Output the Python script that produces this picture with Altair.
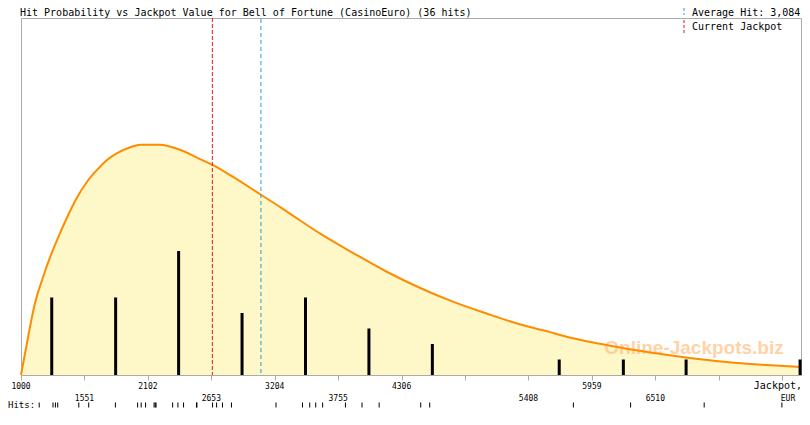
"""Hit probability vs jackpot value chart (Bell of Fortune, CasinoEuro)"""

import altair as alt
import pandas as pd


# Styling
FILL_COLOR = "#fef7c7"
CURVE_COLOR = "#ff8c00"
FRAME_COLOR = "#aaaaaa"
RED = "#e01b1b"
BLUE = "#2a9ad8"
MONO_FONT = "DejaVu Sans Mono"
PLOT_W = 780
PLOT_H = 357

# Data
x_domain = [1000, 7775]
y_domain = [0, 23.03]

curve_jackpot = [1000, 1060, 1118, 1189, 1261, 1333, 1405, 1476, 1577, 1663, 1749,
                 1835, 1950, 2036, 2208, 2369, 2541, 2664, 2828, 3077, 3258, 3402,
                 3603, 3890, 4177, 4463, 4751, 5038, 5324, 5554, 5755, 6042, 6329,
                 6616, 6903, 7190, 7477, 7775]
curve_level = [0, 2.39, 4.53, 6.26, 7.76, 9.05, 10.24, 11.31, 12.50, 13.25, 13.89,
               14.32, 14.69, 14.86, 14.86, 14.56, 13.98, 13.55, 12.84, 11.66, 10.80, 10.08,
               9.10, 7.85, 6.66, 5.63, 4.73, 3.98, 3.29, 2.85, 2.43, 2.00, 1.61,
               1.29, 1.01, 0.79, 0.65, 0.52]

bar_jackpot = [1267, 1822, 2369, 2920, 3471, 4022, 4573, 5675, 6232, 6777, 7767]
bar_hits = [5, 5, 8, 4, 5, 3, 2, 1, 1, 1, 1]

hit_values = [1158, 1278, 1299, 1319, 1502, 1588, 1820, 2013, 2044, 2082,
              2156, 2166, 2173, 2317, 2363, 2412, 2524, 2528, 2664, 2699,
              2750, 2828, 3215, 3445, 3508, 3560, 3620, 3818, 3962, 4111,
              4472, 4550, 5798, 6295, 6934, 7609]

tick_values = [1000, 1551, 2102, 2653, 3204, 3755, 4306, 4857, 5408, 5959, 6510, 7061, 7612]
label_row1 = [1000, 2102, 3204, 4306, 5959]
label_row2 = [1551, 2653, 3755, 5408, 6510]

current_jackpot = 2662
average_hit = 3084

title_text = "Hit Probability vs Jackpot Value for Bell of Fortune (CasinoEuro) (36 hits)"
legend_labels = ["Average Hit: 3,084", "Current Jackpot"]


def x_enc(field):
    return alt.X(
        f"{field}:Q",
        scale=alt.Scale(domain=x_domain, nice=False, zero=False, padding=0),
        axis=alt.Axis(values=tick_values, labels=False, title=None, grid=False,
                      tickColor=FRAME_COLOR, domainColor=FRAME_COLOR, tickSize=5),
    )


def y_enc(field):
    return alt.Y(f"{field}:Q", scale=alt.Scale(domain=y_domain, nice=False), axis=None)


def text_chart(text, **mark_kw):
    return alt.Chart(pd.DataFrame({"t": [text]})).mark_text(
        font=MONO_FONT, color="black", baseline="alphabetic", **mark_kw
    )


curve_df = pd.DataFrame({"jackpot": curve_jackpot, "level": curve_level})
bars_df = pd.DataFrame({"jackpot": bar_jackpot, "hits": bar_hits})
hits_df = pd.DataFrame({"jackpot": hit_values})
row1_df = pd.DataFrame({"jackpot": label_row1, "label": [str(v) for v in label_row1]})
row2_df = pd.DataFrame({"jackpot": label_row2, "label": [str(v) for v in label_row2]})

# Probability curve: filled area plus orange outline
area = alt.Chart(curve_df).mark_area(
    color=FILL_COLOR, interpolate="monotone"
).encode(x=x_enc("jackpot"), y=y_enc("level"))

line = alt.Chart(curve_df).mark_line(
    color=CURVE_COLOR, strokeWidth=2, interpolate="monotone"
).encode(x=x_enc("jackpot"), y=y_enc("level"))

watermark = alt.Chart(pd.DataFrame({"t": ["Online-Jackpots.biz"]})).mark_text(
    font="Liberation Sans", fontSize=19, fontWeight="bold", color="#ffc48a",
    opacity=0.75, align="center", baseline="middle"
).encode(x=alt.value(673), y=alt.value(330), text="t:N")

# Hit histogram
bars = alt.Chart(bars_df).mark_bar(color="black", size=3).encode(
    x=x_enc("jackpot"), y=y_enc("hits")
)

# Reference lines
current_line = alt.Chart(pd.DataFrame({"jackpot": [current_jackpot]})).mark_rule(
    color=RED, strokeDash=[4, 2], strokeWidth=1
).encode(x=x_enc("jackpot"), y=alt.value(0), y2=alt.value(PLOT_H))

average_line = alt.Chart(pd.DataFrame({"jackpot": [average_hit]})).mark_rule(
    color=BLUE, strokeDash=[4, 3], strokeWidth=1
).encode(x=x_enc("jackpot"), y=alt.value(1), y2=alt.value(PLOT_H))

# Tick labels in two staggered rows
row1 = alt.Chart(row1_df).mark_text(
    font=MONO_FONT, fontSize=8, baseline="alphabetic", color="black"
).encode(x=x_enc("jackpot"), y=alt.value(370.5), text="label:N")

row2 = alt.Chart(row2_df).mark_text(
    font=MONO_FONT, fontSize=8, baseline="alphabetic", color="black"
).encode(x=x_enc("jackpot"), y=alt.value(382.5), text="label:N")

unit1 = text_chart("Jackpot,", fontSize=10, align="right").encode(
    x=alt.value(781), y=alt.value(370.5), text="t:N")
unit2 = text_chart("EUR", fontSize=8, align="center").encode(
    x=alt.value(767), y=alt.value(382.5), text="t:N")

# Individual hits strip
hits_label = text_chart("Hits:", fontSize=9, align="left").encode(
    x=alt.value(-13), y=alt.value(389.5), text="t:N")

hit_ticks = alt.Chart(hits_df).mark_rule(color="black", strokeWidth=1).encode(
    x=x_enc("jackpot"), y=alt.value(384.5), y2=alt.value(389.5)
)

# Title and legend
title = text_chart(title_text, fontSize=10, align="left").encode(
    x=alt.value(-1), y=alt.value(-2.5), text="t:N")

legend_avg_text = text_chart(legend_labels[0], fontSize=10, align="left").encode(
    x=alt.value(671), y=alt.value(-2.5), text="t:N")
legend_cur_text = text_chart(legend_labels[1], fontSize=10, align="left").encode(
    x=alt.value(671), y=alt.value(12), text="t:N")

legend_avg = alt.Chart(pd.DataFrame({"t": ["avg"]})).mark_rule(
    color=BLUE, strokeDash=[3, 2], strokeWidth=1
).encode(x=alt.value(663), y=alt.value(-10), y2=alt.value(-3))

legend_cur = alt.Chart(pd.DataFrame({"t": ["cur"]})).mark_rule(
    color=RED, strokeDash=[3, 2], strokeWidth=1
).encode(x=alt.value(663), y=alt.value(2), y2=alt.value(15))

chart = alt.layer(
    area, watermark, line, bars, current_line, average_line,
    row1, row2, unit1, unit2, hits_label, hit_ticks,
    title, legend_avg_text, legend_cur_text, legend_avg, legend_cur,
).properties(
    width=PLOT_W,
    height=PLOT_H,
    autosize="none",
    padding={"left": 13, "top": 10, "right": 1, "bottom": 33},
    background="white",
).configure_view(
    stroke=FRAME_COLOR, strokeWidth=1
)

chart.save("out.html", embed_options={"renderer": "svg", "actions": False})
